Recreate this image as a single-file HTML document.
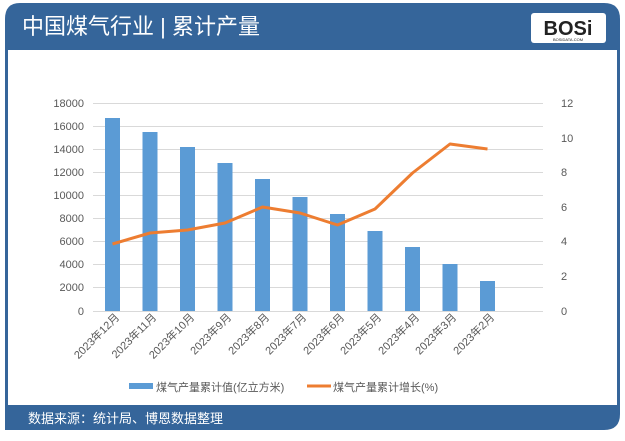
<!DOCTYPE html>
<html><head><meta charset="utf-8"><style>
body{margin:0;background:#fff;width:625px;height:436px;overflow:hidden;font-family:"Liberation Sans","Noto Sans CJK SC",sans-serif}
</style></head><body>
<svg width="625" height="436" xmlns="http://www.w3.org/2000/svg" font-family="Liberation Sans, Noto Sans CJK SC, sans-serif">
<rect x="0" y="0" width="625" height="436" fill="#fff"/>
<path d="M20,3 H604 Q620,3 620,19 V414 Q620,430 604,430 H5 V19 Q5,3 20,3 Z" fill="#35659a"/>
<rect x="8" y="50" width="609" height="355" fill="#fff"/>
<text x="22" y="34" font-size="22" fill="#fff">中国煤气行业 | 累计产量</text>
<rect x="531" y="13" width="75" height="30" rx="3" fill="#fff"/>
<text x="568" y="35" font-size="20" font-weight="bold" fill="#222" text-anchor="middle">BOSi</text>
<text x="568" y="41" font-size="4" fill="#222" text-anchor="middle">BOSIDATA.COM</text>
<text x="28" y="423" font-size="13" fill="#fff">数据来源：统计局、博恩数据整理</text>
<g stroke="#d9d9d9" stroke-width="1">
<line x1="93" x2="543" y1="103.5" y2="103.5"/><line x1="93" x2="543" y1="126.5" y2="126.5"/>
<line x1="93" x2="543" y1="149.5" y2="149.5"/><line x1="93" x2="543" y1="172.5" y2="172.5"/>
<line x1="93" x2="543" y1="195.5" y2="195.5"/><line x1="93" x2="543" y1="218.5" y2="218.5"/>
<line x1="93" x2="543" y1="241.5" y2="241.5"/><line x1="93" x2="543" y1="264.5" y2="264.5"/>
<line x1="93" x2="543" y1="287.5" y2="287.5"/><line x1="93" x2="543" y1="311.5" y2="311.5"/>
</g>
<g font-size="11" fill="#595959" text-anchor="end">
<text x="84" y="107">18000</text><text x="84" y="130">16000</text><text x="84" y="153">14000</text>
<text x="84" y="176">12000</text><text x="84" y="199">10000</text><text x="84" y="222">8000</text>
<text x="84" y="245">6000</text><text x="84" y="268">4000</text><text x="84" y="291">2000</text><text x="84" y="315">0</text>
</g>
<g font-size="11" fill="#595959">
<text x="561" y="107">12</text><text x="561" y="142">10</text><text x="561" y="176">8</text>
<text x="561" y="211">6</text><text x="561" y="245">4</text><text x="561" y="280">2</text><text x="561" y="315">0</text>
</g>
<g fill="#5b9bd5">
<rect x="105" y="118" width="15" height="193"/>
<rect x="142.5" y="132" width="15" height="179"/>
<rect x="180" y="147" width="15" height="164"/>
<rect x="217.5" y="163" width="15" height="148"/>
<rect x="255" y="179" width="15" height="132"/>
<rect x="292.5" y="197" width="15" height="114"/>
<rect x="330" y="214" width="15" height="97"/>
<rect x="367.5" y="231" width="15" height="80"/>
<rect x="405" y="247" width="15" height="64"/>
<rect x="442.5" y="264" width="15" height="47"/>
<rect x="480" y="281" width="15" height="30"/>
</g>
<polyline fill="none" stroke="#ed7d31" stroke-width="3" stroke-linejoin="round" points="112.5,244 150,233 187.5,230 225,223 262.5,207 300,213 337.5,225 375,209 412.5,173 450,144 487.5,149"/>
<g font-size="11" fill="#595959" text-anchor="end">
<text transform="translate(120,318) rotate(-45)">2023年12月</text>
<text transform="translate(157,318) rotate(-45)">2023年11月</text>
<text transform="translate(195,318) rotate(-45)">2023年10月</text>
<text transform="translate(232,318) rotate(-45)">2023年9月</text>
<text transform="translate(270,318) rotate(-45)">2023年8月</text>
<text transform="translate(307,318) rotate(-45)">2023年7月</text>
<text transform="translate(345,318) rotate(-45)">2023年6月</text>
<text transform="translate(382,318) rotate(-45)">2023年5月</text>
<text transform="translate(420,318) rotate(-45)">2023年4月</text>
<text transform="translate(457,318) rotate(-45)">2023年3月</text>
<text transform="translate(495,318) rotate(-45)">2023年2月</text>
</g>
<rect x="129" y="383" width="24" height="6" fill="#5b9bd5"/>
<text x="156" y="391" font-size="11" fill="#595959">煤气产量累计值(亿立方米)</text>
<line x1="307" x2="331" y1="386" y2="386" stroke="#ed7d31" stroke-width="3"/>
<text x="333" y="391" font-size="11" fill="#595959">煤气产量累计增长(%)</text>
</svg>
</body></html>
